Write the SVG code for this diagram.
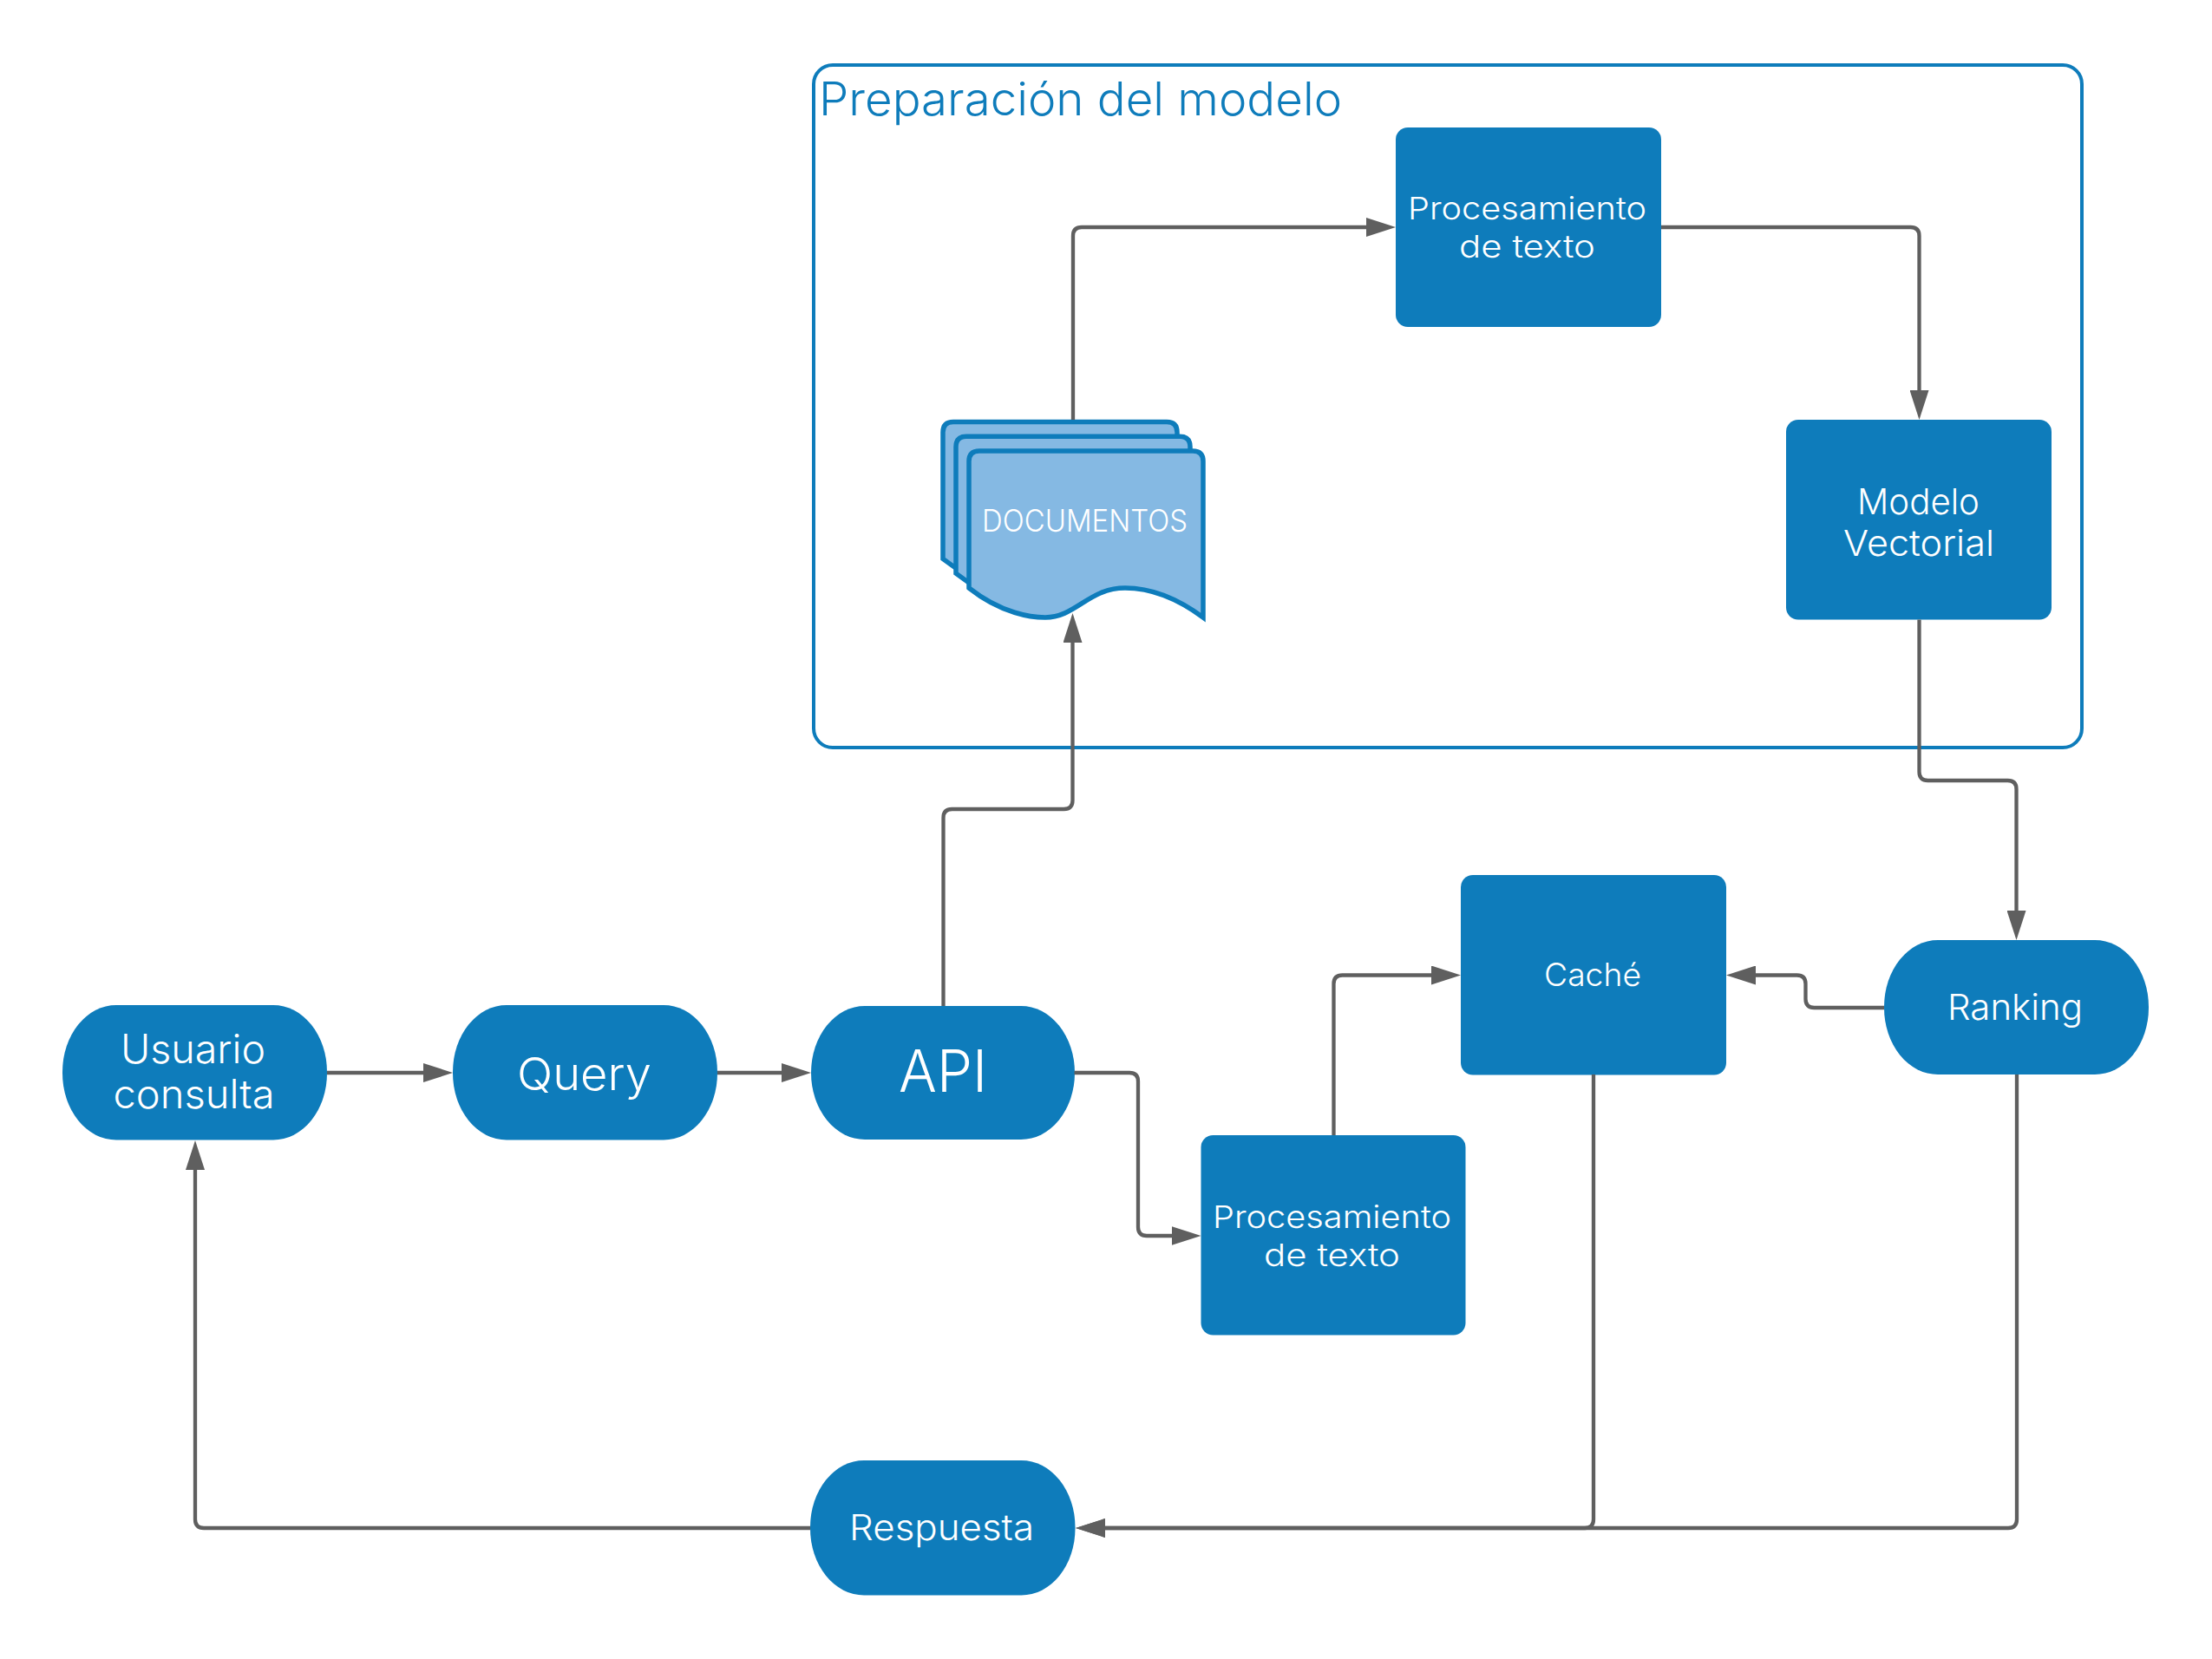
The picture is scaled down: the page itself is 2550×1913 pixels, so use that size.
<svg xmlns="http://www.w3.org/2000/svg" xmlns:xlink="http://www.w3.org/1999/xlink" width="2550" height="1913" viewBox="0 0 2550 1913">
<style>
.bg{fill:#fff}
.n{fill:#0e7cbb}
.t{fill:#fff;font-family:"Inter","Noto Sans","Liberation Sans",sans-serif;font-weight:350}
.c{fill:none;stroke:#5f5f5f;stroke-width:4.300;marker-end:url(#arrow)}
.p{fill:#85b9e3;stroke:#0e7cbb;stroke-width:5.500;stroke-linejoin:miter}
.title{fill:#0e7cbb;font-family:"Inter","Noto Sans","Liberation Sans",sans-serif;font-weight:350}
</style>
<defs>
<marker id="arrow" markerUnits="userSpaceOnUse" markerWidth="34" markerHeight="22" refX="2" refY="11" orient="auto"><path d="M0 0L34 11L0 22Z" fill="#5f5f5f"/></marker>
<path id="page" d="M1117 678C1155 708 1190 712 1205 712C1240 712 1255 678 1297 678C1330 678 1360 692 1387 712V532Q1387 520 1375 520H1129Q1117 520 1117 532Z"/>
</defs>
<rect class="bg" width="2550" height="1913"/>
<g id="container">
<rect x="938" y="75" width="1462" height="787" rx="22" fill="none" stroke="#0e7cbb" stroke-width="4"/>
<text class="title" x="944" y="133" font-size="53" textLength="603" lengthAdjust="spacingAndGlyphs">Preparación del modelo</text>
</g>
<g id="usuario"><rect class="n" x="72" y="1159" width="305" height="155.500" rx="62" ry="77"/>
<text class="t" x="139" y="1226" font-size="46" textLength="167" lengthAdjust="spacingAndGlyphs">Usuario</text>
<text class="t" x="130.500" y="1278" font-size="46" textLength="186" lengthAdjust="spacingAndGlyphs">consulta</text></g>
<g id="query"><rect class="n" x="522" y="1159" width="305" height="155.500" rx="62" ry="77"/>
<text class="t" x="596" y="1257" font-size="52" textLength="155" lengthAdjust="spacingAndGlyphs">Query</text></g>
<g id="api"><rect class="n" x="935" y="1160" width="304" height="154" rx="62" ry="77"/>
<text class="t" x="1036" y="1259" font-size="67" textLength="102" lengthAdjust="spacingAndGlyphs">API</text></g>
<g id="respuesta"><rect class="n" x="934" y="1684" width="305.500" height="155.500" rx="62" ry="77"/>
<text class="t" x="979" y="1776" font-size="41" textLength="213" lengthAdjust="spacingAndGlyphs">Respuesta</text></g>
<g id="ranking"><rect class="n" x="2172" y="1084" width="305" height="155" rx="62" ry="77"/>
<text class="t" x="2245" y="1176" font-size="41" textLength="156" lengthAdjust="spacingAndGlyphs">Ranking</text></g>
<g id="cache"><rect class="n" x="1684" y="1009" width="306" height="230.500" rx="14"/>
<text class="t" x="1780" y="1137" font-size="37" textLength="112" lengthAdjust="spacingAndGlyphs">Caché</text></g>
<g id="procesamiento2"><rect class="n" x="1384.500" y="1309" width="305" height="230.500" rx="14"/>
<text class="t" x="1398" y="1416" font-size="36" textLength="275" lengthAdjust="spacingAndGlyphs">Procesamiento</text>
<text class="t" x="1457" y="1459.500" font-size="36" textLength="157" lengthAdjust="spacingAndGlyphs">de texto</text></g>
<g id="procesamiento1"><rect class="n" x="1609" y="147" width="306" height="230" rx="14"/>
<text class="t" x="1623" y="253" font-size="36" textLength="275" lengthAdjust="spacingAndGlyphs">Procesamiento</text>
<text class="t" x="1682" y="296.500" font-size="36" textLength="157" lengthAdjust="spacingAndGlyphs">de texto</text></g>
<g id="modelo"><rect class="n" x="2059" y="484" width="306" height="230.500" rx="14"/>
<text class="t" x="2141" y="593" font-size="41" textLength="141" lengthAdjust="spacingAndGlyphs">Modelo</text>
<text class="t" x="2125" y="640.500" font-size="41" textLength="174" lengthAdjust="spacingAndGlyphs">Vectorial</text></g>
<g id="documentos">
<use xlink:href="#page" href="#page" class="p" transform="translate(-30,-33.600)"/>
<use xlink:href="#page" href="#page" class="p" transform="translate(-15,-16.800)"/>
<use xlink:href="#page" href="#page" class="p"/>
<text class="t" x="1132" y="613" font-size="36" textLength="237" lengthAdjust="spacingAndGlyphs">DOCUMENTOS</text>
</g>
<g id="connectors">
<path class="c" d="M377 1237H490"/>
<path class="c" d="M827 1237H903"/>
<path class="c" d="M1087.500 1160V943Q1087.500 933 1097.500 933H1226.500Q1236.500 933 1236.500 923V739"/>
<path class="c" d="M1237 484V272Q1237 262 1247 262H1577"/>
<path class="c" d="M1915 262H2202.500Q2212.500 262 2212.500 272V452"/>
<path class="c" d="M2212.500 714.500V890Q2212.500 900 2222.500 900H2314.500Q2324.500 900 2324.500 910V1052"/>
<path class="c" d="M1238.500 1237H1302Q1312 1237 1312 1247V1415Q1312 1425 1322 1425H1352.500"/>
<path class="c" d="M1537.500 1309V1134.500Q1537.500 1124.500 1547.500 1124.500H1652"/>
<path class="c" d="M2172 1162H2091.500Q2081.500 1162 2081.500 1152V1134.500Q2081.500 1124.500 2071.500 1124.500H2022"/>
<path class="c" d="M1837 1239V1752Q1837 1762 1827 1762H1272"/>
<path class="c" d="M2325 1239V1752Q2325 1762 2315 1762H1272"/>
<path class="c" d="M934 1762H235Q225 1762 225 1752V1347"/>
</g>
</svg>
